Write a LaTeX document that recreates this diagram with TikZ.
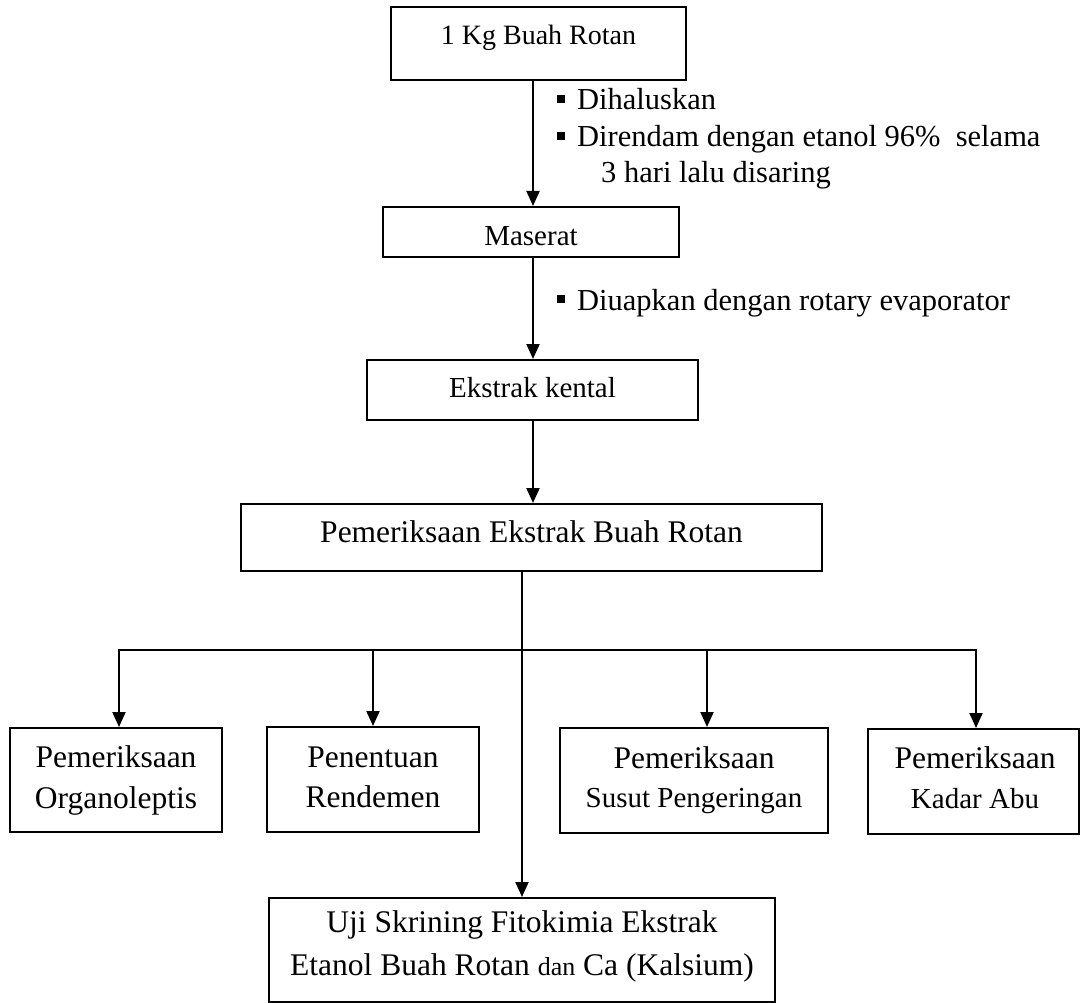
\documentclass[tikz,border=0pt]{standalone}
\usepackage{fontspec}
\setmainfont{Liberation Serif}
\usetikzlibrary{arrows.meta}
\newcommand\sqbullet{\rule[7pt]{8pt}{8pt}}
\begin{document}
\begin{tikzpicture}[x=1pt,y=-1pt,
  box/.style={draw, line width=2pt, inner sep=0pt, rectangle},
  txt/.style={anchor=base, inner sep=0pt, font=\fontsize{31.5}{36}\selectfont},
  txtm/.style={anchor=base, inner sep=0pt, font=\fontsize{29}{34}\selectfont},
  txts/.style={anchor=base, inner sep=0pt, font=\fontsize{28}{33}\selectfont},
  note/.style={anchor=base west, inner sep=0pt, font=\fontsize{30.5}{36}\selectfont},
  link/.style={line width=2pt},
  arr/.style={line width=2pt, -{Triangle[length=15pt,width=13pt]}},
]
\useasboundingbox (0,0) rectangle (1081,1003);

% process boxes
\node[box, minimum width=295, minimum height=73] (top) at (538.5,43.5) {};
\node[box, minimum width=296, minimum height=50] (maserat) at (531,232) {};
\node[box, minimum width=331, minimum height=60] (kental) at (532.5,390) {};
\node[box, minimum width=581, minimum height=67] (pem) at (531.5,537.5) {};
\node[box, minimum width=212, minimum height=104] (organo) at (116,780) {};
\node[box, minimum width=212, minimum height=105] (rend) at (373,779.5) {};
\node[box, minimum width=268, minimum height=105] (susut) at (694,780.5) {};
\node[box, minimum width=211, minimum height=105] (kadar) at (973.5,781.5) {};
\node[box, minimum width=506, minimum height=104] (skrin) at (522,950) {};

% box labels
\node[txts] (topT) at (538.5,45) {1 Kg Buah Rotan};
\node[txtm] (maseratT) at (531,245) {Maserat};
\node[txtm] (kentalT) at (532.5,397) {Ekstrak kental};
\node[txt] (pemT) at (531.5,542) {Pemeriksaan Ekstrak Buah Rotan};
\node[txt] (organoA) at (116,767) {Pemeriksaan};
\node[txt] (organoB) at (116,808) {Organoleptis};
\node[txt] (rendA) at (373,767) {Penentuan};
\node[txt] (rendB) at (373,807) {Rendemen};
\node[txt] (susutA) at (694,768) {Pemeriksaan};
\node[txtm] (susutB) at (694,807) {Susut Pengeringan};
\node[txt] (kadarA) at (975,768) {Pemeriksaan};
\node[txtm] (kadarB) at (975,808) {Kadar Abu};
\node[txt] (skrinA) at (522,932) {Uji Skrining Fitokimia Ekstrak};
\node[txt] (skrinB) at (522,975) {Etanol Buah Rotan {\fontsize{26}{30}\selectfont dan} Ca (Kalsium)};

% step notes
\node[note] (n1) at (557,110) {\sqbullet\hspace{12pt}Dihaluskan};
\node[note] (n2) at (557,147) {\sqbullet\hspace{12pt}Direndam dengan etanol 96\%\ \ selama};
\node[note] (n3) at (601,183) {3 hari lalu disaring};
\node[note] (n4) at (557,310) {\sqbullet\hspace{12pt}Diuapkan dengan rotary evaporator};

% main flow
\coordinate (spine) at (533,0);
\draw[arr] (spine |- top.south) -- (spine |- maserat.north);
\draw[arr] (spine |- maserat.south) -- (spine |- kental.north);
\draw[arr] (spine |- kental.south) -- (spine |- pem.north);
\draw[arr] (pem.south -| skrin.north) -- (skrin.north);

% branches to the examinations
\coordinate (b1) at (119,650);
\coordinate (b2) at (373,650);
\coordinate (b3) at (707,650);
\coordinate (b4) at (976,650);
\draw[link] (b2) -- (b3);
\draw[arr] (b2) -- (b1) -- (b1 |- organo.north);
\draw[arr] (b2) -- (b2 |- rend.north);
\draw[arr] (b3) -- (b3 |- susut.north);
\draw[arr] (b3) -- (b4) -- (b4 |- kadar.north);
\end{tikzpicture}
\end{document}
